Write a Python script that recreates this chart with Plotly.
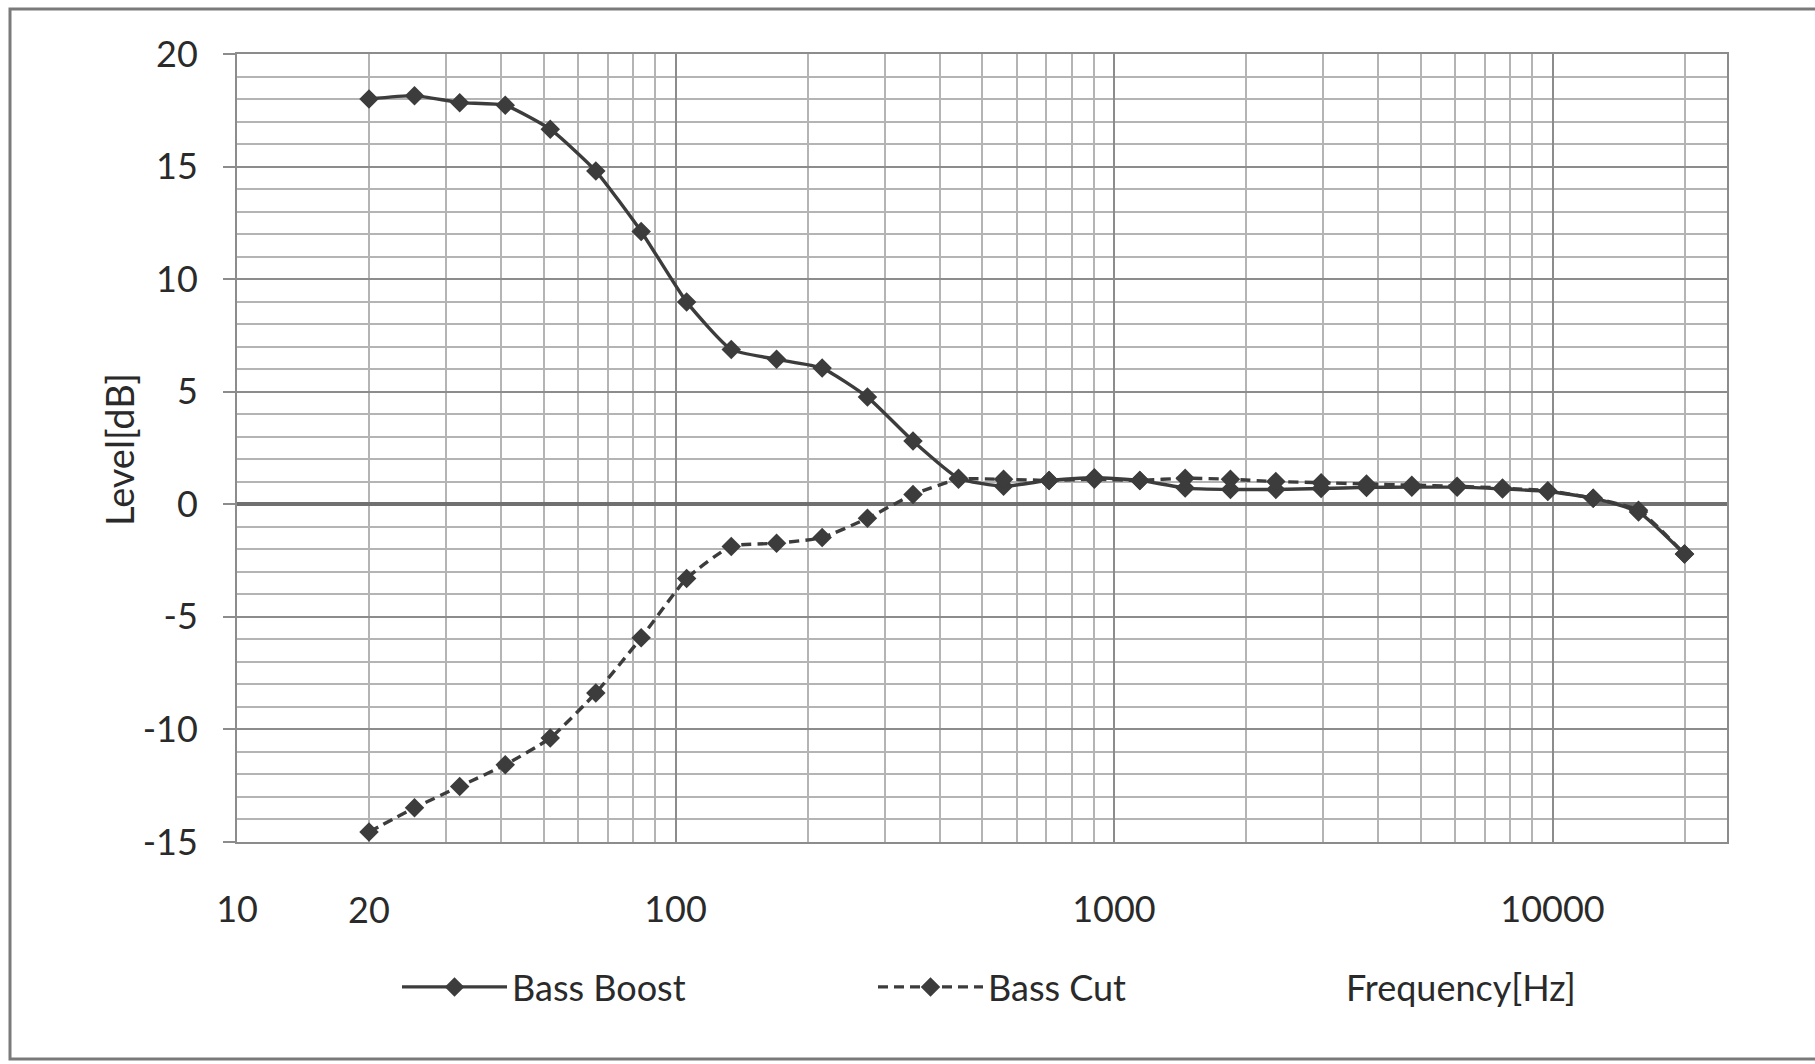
import plotly.graph_objects as go
import math

# ---- data ----
freq_hz = [20, 25.4, 32.2, 40.9, 51.8, 65.8, 83.5, 106, 134, 170, 216, 274, 348, 442, 560,
           711, 902, 1145, 1453, 1843, 2339, 2967, 3765, 4777, 6061, 7690, 9758, 12381, 15709, 20000]
bass_boost = [18.0, 18.15, 17.84, 17.72, 16.66, 14.8, 12.12, 8.99, 6.88, 6.44, 6.05, 4.76, 2.81, 1.16, 0.8,
              1.06, 1.18, 1.06, 0.72, 0.66, 0.66, 0.7, 0.75, 0.76, 0.76, 0.68, 0.57, 0.27, -0.34, -2.21]
bass_cut = [-14.56, -13.48, -12.53, -11.57, -10.38, -8.38, -5.93, -3.3, -1.87, -1.73, -1.48, -0.62, 0.43, 1.11, 1.11,
            1.06, 1.11, 1.06, 1.16, 1.11, 1.01, 0.96, 0.9, 0.85, 0.8, 0.72, 0.6, 0.27, -0.26, -2.21]
series_names = ["Bass Boost", "Bass Cut"]
x_tick_vals = [10, 100, 1000, 10000]
x_tick_text = ["10", "100", "1000", "10000"]
extra_x_label = 20
y_tick_vals = [-15, -10, -5, 0, 5, 10, 15, 20]
y_tick_text = ["-15", "-10", "-5", "0", "5", "10", "15", "20"]
x_title = "Frequency[Hz]"
y_title = "Level[dB]"

W, H = 1815, 1064
L, R, T, B = 237, 88, 54, 222
pw, ph = W - L - R, H - T - B

FONT = "Lato, 'Open Sans', sans-serif"
TXT = "#2a2a2a"
LINE = "#3c3c3c"

fig = go.Figure()
fig.add_trace(go.Scatter(
    x=freq_hz, y=bass_boost, name=series_names[0], mode="lines+markers",
    line=dict(color=LINE, width=3.4, shape="spline", smoothing=0.5),
    marker=dict(symbol="diamond", size=15, color=LINE)))
fig.add_trace(go.Scatter(
    x=freq_hz, y=bass_cut, name=series_names[1], mode="lines+markers",
    line=dict(color=LINE, width=3.4, dash="10px,6px", shape="spline", smoothing=0.5),
    marker=dict(symbol="diamond", size=15, color=LINE)))

def px2paper_x(px):
    return (px - L) / pw

def px2paper_y(py):
    return (H - B - py) / ph

fig.update_layout(
    width=W, height=H,
    margin=dict(l=L, r=R, t=T, b=B),
    paper_bgcolor="white", plot_bgcolor="white",
    font=dict(family=FONT, size=36, color=TXT),
    showlegend=True,
    legend=dict(orientation="h", x=px2paper_x(397), y=px2paper_y(987),
                xanchor="left", yanchor="middle",
                entrywidth=356, entrywidthmode="pixels", itemwidth=105,
                font=dict(family=FONT, size=36, color=TXT),
                bgcolor="rgba(0,0,0,0)"),
    xaxis=dict(type="log", range=[1, math.log10(25000)],
               tickvals=x_tick_vals, ticktext=x_tick_text,
               showgrid=True, gridcolor="#8c8c8c", gridwidth=2,
               ticks="", ticklabelstandoff=35,
               showline=True, mirror=True, linecolor="#8c8c8c", linewidth=2,
               zeroline=False,
               minor=dict(dtick="D1", showgrid=True, gridcolor="#b4b4b4", gridwidth=1.5, ticks="")),
    yaxis=dict(range=[-15, 20], tickvals=y_tick_vals, ticktext=y_tick_text,
               showgrid=True, gridcolor="#8c8c8c", gridwidth=2,
               ticks="outside", ticklen=12, tickcolor="#8c8c8c", tickwidth=2,
               ticklabelstandoff=18,
               showline=True, mirror=True, linecolor="#8c8c8c", linewidth=2,
               zeroline=True, zerolinecolor="#707070", zerolinewidth=3.5,
               minor=dict(dtick=1, showgrid=True, gridcolor="#b4b4b4", gridwidth=1.5, ticks="")),
)

fig.add_annotation(x=math.log10(extra_x_label), xref="x", y=px2paper_y(909), yref="paper",
                   text=str(extra_x_label), showarrow=False, xanchor="center", yanchor="middle",
                   font=dict(family=FONT, size=36, color=TXT))
fig.add_annotation(x=px2paper_x(1461), xref="paper", y=px2paper_y(987), yref="paper",
                   text=x_title, showarrow=False, xanchor="center", yanchor="middle",
                   font=dict(family=FONT, size=36, color=TXT))
fig.add_annotation(x=px2paper_x(119), xref="paper", y=px2paper_y(449), yref="paper",
                   text=y_title, showarrow=False, textangle=-90, xanchor="center", yanchor="middle",
                   font=dict(family=FONT, size=38, color=TXT))

# outer chart frame
fig.add_shape(type="rect", xref="paper", yref="paper",
              x0=px2paper_x(10), x1=px2paper_x(1830), y0=px2paper_y(1059), y1=px2paper_y(9),
              line=dict(color="#7a7a7a", width=3), layer="below")

fig.write_html("out.html")
